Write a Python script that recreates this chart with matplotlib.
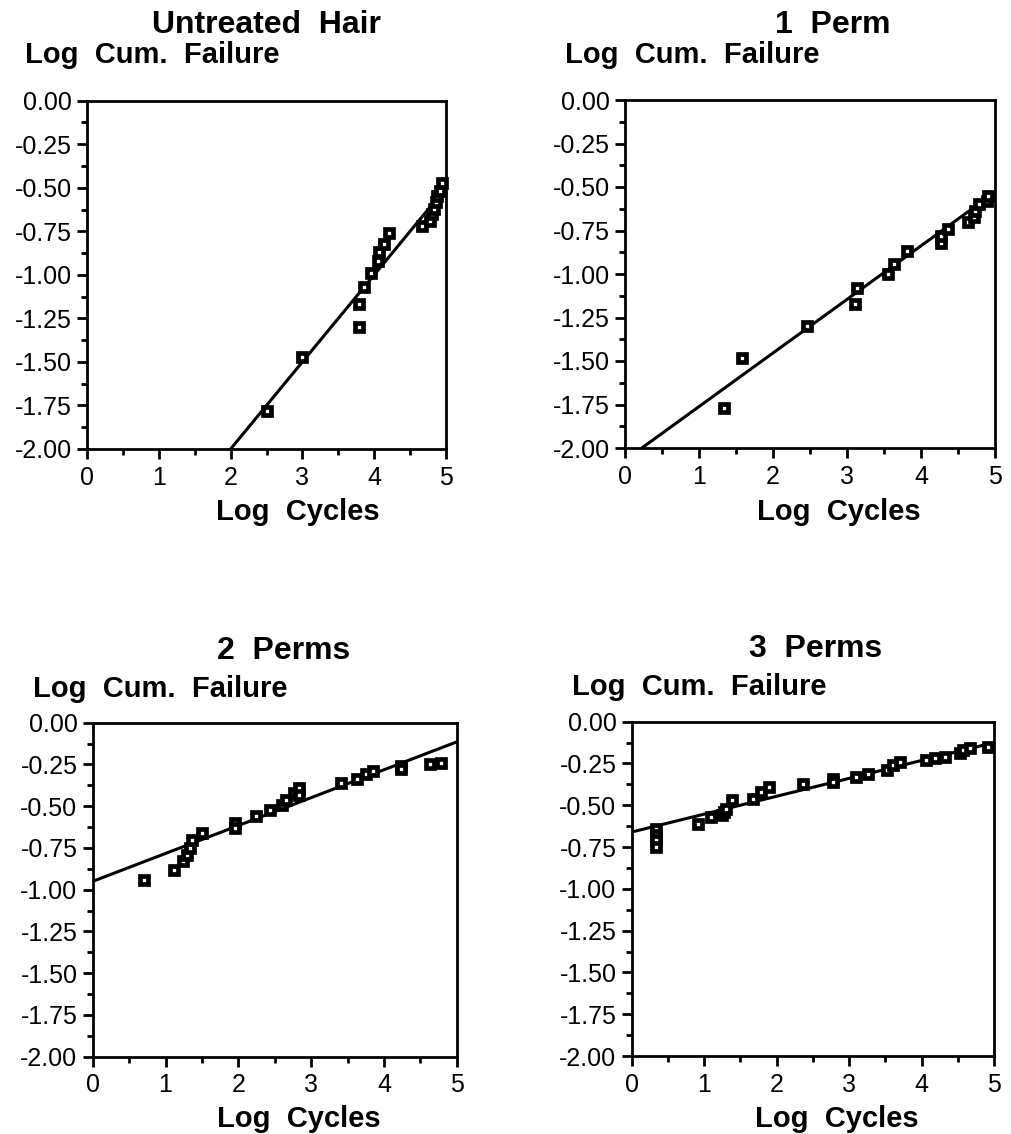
import numpy as np
import matplotlib
matplotlib.use("Agg")
import matplotlib.pyplot as plt
from matplotlib.ticker import MultipleLocator, FormatStrFormatter

plt.rcParams['font.family'] = ['Liberation Sans', 'DejaVu Sans']

# ---------------- data ----------------
titles = ["Untreated  Hair", "1  Perm", "2  Perms", "3  Perms"]

untreated_x = [2.51, 2.99, 3.79, 3.79, 3.86, 3.95, 4.05, 4.07, 4.14, 4.20,
               4.67, 4.78, 4.81, 4.83, 4.86, 4.88, 4.92, 4.95]
untreated_y = [-1.78, -1.47, -1.17, -1.30, -1.07, -0.99, -0.92, -0.87, -0.82, -0.76,
               -0.72, -0.69, -0.65, -0.62, -0.58, -0.55, -0.52, -0.47]

perm1_x = [1.34, 1.585, 2.46, 3.11, 3.13, 3.56, 3.63, 3.81, 4.27, 4.27,
           4.37, 4.64, 4.71, 4.73, 4.79, 4.89, 4.90]
perm1_y = [-1.77, -1.48, -1.30, -1.17, -1.08, -1.00, -0.94, -0.87, -0.82, -0.78,
           -0.74, -0.70, -0.67, -0.64, -0.60, -0.58, -0.55]

perm2_x = [0.70, 1.12, 1.24, 1.29, 1.34, 1.36, 1.50, 1.95, 1.95, 2.24, 2.43, 2.60,
           2.66, 2.76, 2.84, 2.84, 3.41, 3.63, 3.76, 3.85, 4.24, 4.24, 4.63, 4.79]
perm2_y = [-0.94, -0.88, -0.83, -0.79, -0.75, -0.70, -0.66, -0.60, -0.63, -0.56, -0.52, -0.49,
           -0.46, -0.42, -0.39, -0.43, -0.36, -0.34, -0.31, -0.29, -0.26, -0.28, -0.25, -0.24]

perm3_x = [0.33, 0.33, 0.33, 0.33, 0.92, 1.09, 1.24, 1.27, 1.30, 1.38, 1.67, 1.79, 1.89,
           2.37, 2.78, 2.78, 3.10, 3.26, 3.52, 3.61, 3.70, 4.06, 4.18, 4.32, 4.53,
           4.57, 4.67, 4.92]
perm3_y = [-0.64, -0.68, -0.71, -0.75, -0.61, -0.57, -0.56, -0.54, -0.52, -0.47, -0.46, -0.42, -0.39,
           -0.37, -0.34, -0.36, -0.33, -0.31, -0.29, -0.26, -0.24, -0.23, -0.22, -0.21, -0.19,
           -0.17, -0.16, -0.15]

# fitted lines: slope, intercept, x-start, x-end
fit_slope = [0.50, 0.308, 0.167, 0.107]
fit_intercept = [-3.00, -2.07, -0.95, -0.66]
fit_xstart = [2.0, 0.225, 0.0, 0.0]
fit_xend = [4.95, 4.98, 5.0, 5.0]

xs_all = [untreated_x, perm1_x, perm2_x, perm3_x]
ys_all = [untreated_y, perm1_y, perm2_y, perm3_y]

# ---------------- layout ----------------
W, H = 1011, 1134
fig = plt.figure(figsize=(W / 100, H / 100), dpi=100)

# axes boxes in pixels: left, right, top, bottom
boxes = [(87, 446, 100.7, 449), (625, 995, 100, 448),
         (92.7, 456.7, 722.7, 1056.7), (631.7, 994, 721.7, 1056)]
# text anchors (pixels)
title_pos = [(266, 33), (833, 33), (284, 659), (816, 657)]
ylab_pos = [(25, 63), (565, 63), (33, 697), (572, 695)]
xlab_pos = [(298, 520), (839, 520), (299, 1127), (837, 1127)]

def fx(px):
    return px / W

def fy(py):
    return 1 - py / H

for i in range(4):
    l, r, t, b = boxes[i]
    ax = fig.add_axes([fx(l), fy(b), (r - l) / W, (b - t) / H])
    xl = np.array([fit_xstart[i], fit_xend[i]])
    ax.plot(xl, fit_intercept[i] + fit_slope[i] * xl, color='black', lw=2.2,
            solid_capstyle='butt', zorder=2)
    ax.plot(xs_all[i], ys_all[i], linestyle='none', marker='s', markersize=6,
            markerfacecolor='white', markeredgecolor='black', markeredgewidth=3.4,
            zorder=3, clip_on=False)
    ax.set_xlim(0, 5)
    ax.set_ylim(-2, 0)
    ax.xaxis.set_major_locator(MultipleLocator(1))
    ax.xaxis.set_minor_locator(MultipleLocator(0.5))
    ax.yaxis.set_major_locator(MultipleLocator(0.25))
    ax.yaxis.set_minor_locator(MultipleLocator(0.125))
    ax.yaxis.set_major_formatter(FormatStrFormatter('%.2f'))
    ax.xaxis.set_major_formatter(FormatStrFormatter('%d'))
    for s in ax.spines.values():
        s.set_linewidth(2.0)
    ax.tick_params(which='major', direction='out', length=7, width=2.0,
                   labelsize=18, top=False, right=False)
    ax.tick_params(which='minor', direction='out', length=4, width=2.0,
                   top=False, right=False)
    ax.tick_params(axis='x', which='major', pad=5)
    ax.tick_params(axis='y', which='major', pad=4)
    # titles/labels
    fig.text(fx(title_pos[i][0]), fy(title_pos[i][1]), titles[i], ha='center',
             va='baseline', fontsize=23, fontweight='bold')
    fig.text(fx(ylab_pos[i][0]), fy(ylab_pos[i][1]), "Log  Cum.  Failure", ha='left',
             va='baseline', fontsize=21, fontweight='bold')
    fig.text(fx(xlab_pos[i][0]), fy(xlab_pos[i][1]), "Log  Cycles", ha='center',
             va='baseline', fontsize=21, fontweight='bold')

fig.savefig("out.png", dpi=100, facecolor='white')
